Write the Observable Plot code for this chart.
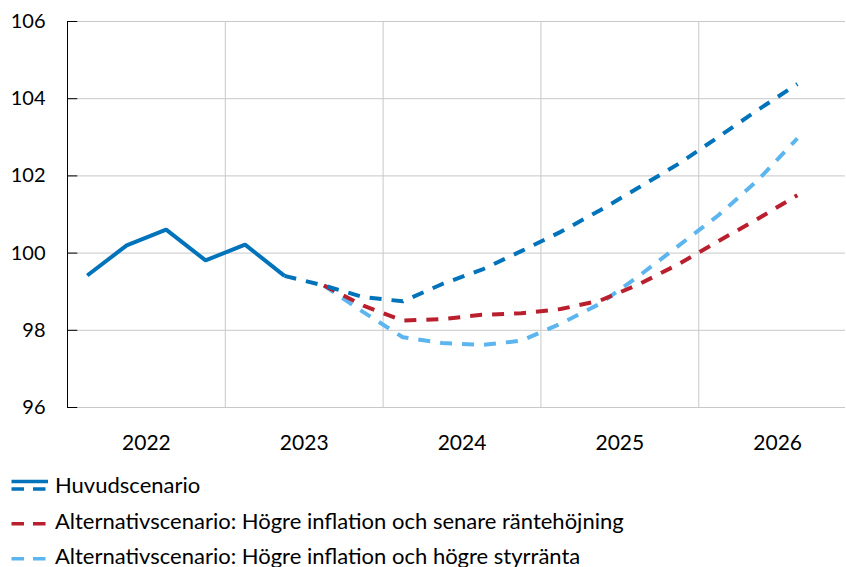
<!DOCTYPE html>
<html><head><meta charset="utf-8">
<script src="https://cdn.jsdelivr.net/npm/d3@7"></script>
<script src="https://cdn.jsdelivr.net/npm/@observablehq/plot@0.6"></script>
<style>
body{margin:0;background:#fff;font-family:Lato,"Open Sans",sans-serif;overflow:hidden;}
#chart svg{display:block;}
#legend{position:relative;width:846px;height:107px;}
.row{position:absolute;left:0;height:30px;width:846px;}
.row svg{position:absolute;left:0;top:0;}
.row span{position:absolute;left:55px;top:0;line-height:30px;font-size:22px;color:#000;white-space:nowrap;}
</style></head><body>
<div id="chart"></div>
<div id="legend"></div>
<script>
// Quarters 2022K1 .. 2026K3
const quarters = ["2022K1","2022K2","2022K3","2022K4","2023K1","2023K2","2023K3","2023K4",
  "2024K1","2024K2","2024K3","2024K4","2025K1","2025K2","2025K3","2025K4","2026K1","2026K2","2026K3"];
const years = [2022, 2023, 2024, 2025, 2026];
const yTicks = [96, 98, 100, 102, 104, 106];

// Utfall (solid), from 2022K1
const utfall = [99.42, 100.20, 100.61, 99.81, 100.22, 99.41];
// Huvudscenario prognos (dashed), from 2023K2
const huvudscenario = [99.41, 99.16, 98.86, 98.75, 99.20, 99.57, 100.05, 100.55, 101.11, 101.71, 102.32, 103.01, 103.71, 104.38];
// Alternativscenario: Högre inflation och senare räntehöjning, from 2023K3
const senareRantehojning = [99.16, 98.64, 98.25, 98.29, 98.40, 98.44, 98.55, 98.77, 99.20, 99.72, 100.31, 100.89, 101.50];
// Alternativscenario: Högre inflation och högre styrränta, from 2023K3
const hogreStyrranta = [99.16, 98.47, 97.82, 97.67, 97.62, 97.73, 98.17, 98.69, 99.42, 100.20, 100.98, 101.89, 102.97];

const seriesNames = ["Huvudscenario",
  "Alternativscenario: Högre inflation och senare räntehöjning",
  "Alternativscenario: Högre inflation och högre styrränta"];
const colors = ["#0073BA", "#BA1F2E", "#5DB5EF"];

function qx(q) { const y = +q.slice(0, 4), k = +q.slice(5); return y + (k - 0.5) / 4; }
function rows(values, startQ) {
  const i0 = quarters.indexOf(startQ);
  return values.map((v, i) => ({q: quarters[i0 + i], x: qx(quarters[i0 + i]), v}));
}

const xDomain = [2022, 2026.93];
const dash = "12,10";

const chart = Plot.plot({
  width: 846, height: 460,
  marginLeft: 67, marginRight: 1, marginTop: 21, marginBottom: 53,
  style: {fontFamily: "Lato, 'Open Sans', sans-serif", fontSize: "20px", color: "#000", background: "#fff"},
  x: {domain: xDomain, label: null},
  y: {domain: [96, 106], label: null},
  marks: [
    Plot.ruleX(years.slice(1), {stroke: "#c8c8c8", strokeWidth: 1}),
    Plot.ruleY(yTicks, {stroke: "#c8c8c8", strokeWidth: 1}),
    Plot.ruleX([xDomain[0]], {stroke: "#000", strokeWidth: 1}),
    Plot.ruleY(yTicks, {x1: xDomain[0], x2: xDomain[0] + 0.065, stroke: "#000", strokeWidth: 1}),
    Plot.axisY({ticks: yTicks, tickSize: 0, tickPadding: 22, fontSize: 20, label: null}),
    Plot.axisX({ticks: years.map(d => d + 0.5), tickFormat: d => String(Math.floor(d)), tickSize: 0, tickPadding: 28, fontSize: 21, label: null}),
    Plot.line(rows(hogreStyrranta, "2023K3"), {x: "x", y: "v", stroke: colors[2], strokeWidth: 4, strokeDasharray: dash, strokeLinecap: "butt", strokeLinejoin: "miter"}),
    Plot.line(rows(senareRantehojning, "2023K3"), {x: "x", y: "v", stroke: colors[1], strokeWidth: 4, strokeDasharray: dash, strokeLinecap: "butt", strokeLinejoin: "miter"}),
    Plot.line(rows(huvudscenario, "2023K2"), {x: "x", y: "v", stroke: colors[0], strokeWidth: 4, strokeDasharray: dash, strokeLinecap: "butt", strokeLinejoin: "miter"}),
    Plot.line(rows(utfall, "2022K1"), {x: "x", y: "v", stroke: colors[0], strokeWidth: 4, strokeLinecap: "butt", strokeLinejoin: "miter"})
  ]
});
document.getElementById("chart").appendChild(chart);

// Legend
const legend = document.getElementById("legend");
seriesNames.forEach((name, i) => {
  const row = document.createElement("div");
  row.className = "row";
  row.style.top = (9.8 + 35.8 * i) + "px";
  let sw;
  if (i === 0) {
    sw = `<svg width="50" height="30"><line x1="11.5" x2="48" y1="11.5" y2="11.5" stroke="${colors[0]}" stroke-width="3.5"/>` +
         `<line x1="11.5" x2="48" y1="18.9" y2="18.9" stroke="${colors[0]}" stroke-width="3.5" stroke-dasharray="12.5,9"/></svg>`;
  } else {
    sw = `<svg width="50" height="30"><line x1="11.5" x2="48" y1="17.7" y2="17.7" stroke="${colors[i]}" stroke-width="3.5" stroke-dasharray="12.5,9"/></svg>`;
  }
  row.innerHTML = sw + `<span>${name}</span>`;
  legend.appendChild(row);
});
</script>
</body></html>
